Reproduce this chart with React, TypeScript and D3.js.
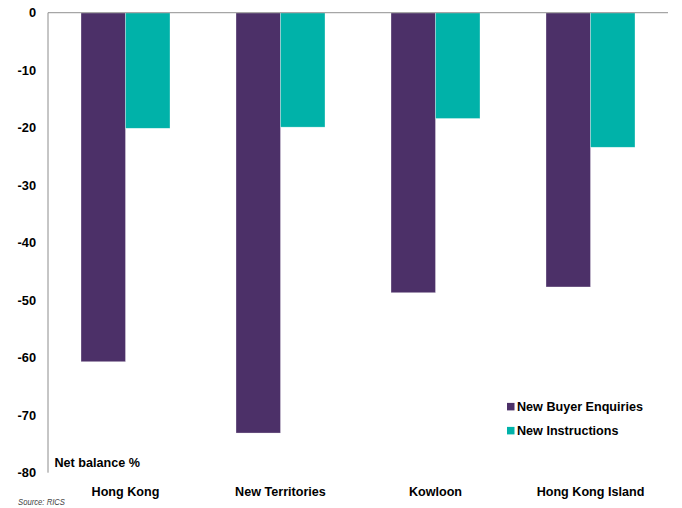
import React from "react";
import * as d3 from "d3";

const categories = ["Hong Kong", "New Territories", "Kowloon", "Hong Kong Island"];
const seriesNames = ["New Buyer Enquiries", "New Instructions"];
const buyerEnquiries = [-60.7, -73.1, -48.7, -47.7];
const newInstructions = [-20.1, -19.9, -18.4, -23.4];
const yTicks = [0, -10, -20, -30, -40, -50, -60, -70, -80];
const colors = ["#4C3068", "#00B2A9"];

const W = 682;
const H = 508;
const FONT = "'Liberation Sans', Arial, sans-serif";

export default function App() {
  const x = d3.scaleBand<string>().domain(categories).range([48, 668]).paddingInner(0).paddingOuter(0);
  const xSub = d3.scaleBand<string>().domain(seriesNames).range([0, x.bandwidth()]).paddingInner(0).paddingOuter(0.742);
  const y = d3.scaleLinear().domain([-80, 0]).range([472.7, 12.7]);
  const series = [buyerEnquiries, newInstructions];

  return (
    <svg width={W} height={H} style={{ position: "absolute", left: 0, top: 0, background: "#fff" }}>
      {series.map((vals, si) =>
        vals.map((v, ci) => (
          <rect
            key={`${si}-${ci}`}
            x={x(categories[ci])! + xSub(seriesNames[si])!}
            y={y(0)}
            width={xSub.bandwidth()}
            height={y(v) - y(0)}
            fill={colors[si]}
            stroke="#ffffff"
            strokeOpacity={0.5}
            strokeWidth={0.6}
          />
        ))
      )}
      <line x1={48} x2={668} y1={y(0)} y2={y(0)} stroke="#a6a6a6" strokeWidth={1.2} />
      <line x1={48} x2={48} y1={y(0)} y2={y(-80)} stroke="#8c8c8c" strokeWidth={1} />
      {yTicks.map((t) => (
        <text
          key={t}
          x={36}
          y={y(t)}
          dy="0.36em"
          textAnchor="end"
          fontFamily={FONT}
          fontWeight="bold"
          fontSize={12.8}
          fill="#000"
        >
          {t}
        </text>
      ))}
      {categories.map((c) => (
        <text
          key={c}
          x={x(c)! + x.bandwidth() / 2}
          y={496}
          textAnchor="middle"
          fontFamily={FONT}
          fontWeight="bold"
          fontSize={12.6}
          fill="#000"
        >
          {c}
        </text>
      ))}
      <text x={54.5} y={467} fontFamily={FONT} fontWeight="bold" fontSize={12.6} fill="#000">
        Net balance %
      </text>
      {seriesNames.map((s, i) => (
        <g key={s} transform={`translate(507, ${406.7 + i * 24})`}>
          <rect x={0} y={-3.8} width={7.5} height={7.5} fill={colors[i]} />
          <text x={10} y={0} dy="0.36em" fontFamily={FONT} fontWeight="bold" fontSize={12.6} fill="#000">
            {s}
          </text>
        </g>
      ))}
      <text
        x={18}
        y={505}
        fontFamily={FONT}
        fontStyle="italic"
        fontSize={9}
        textLength={47}
        lengthAdjust="spacingAndGlyphs"
        fill="#444"
      >
        Source: RICS
      </text>
    </svg>
  );
}
